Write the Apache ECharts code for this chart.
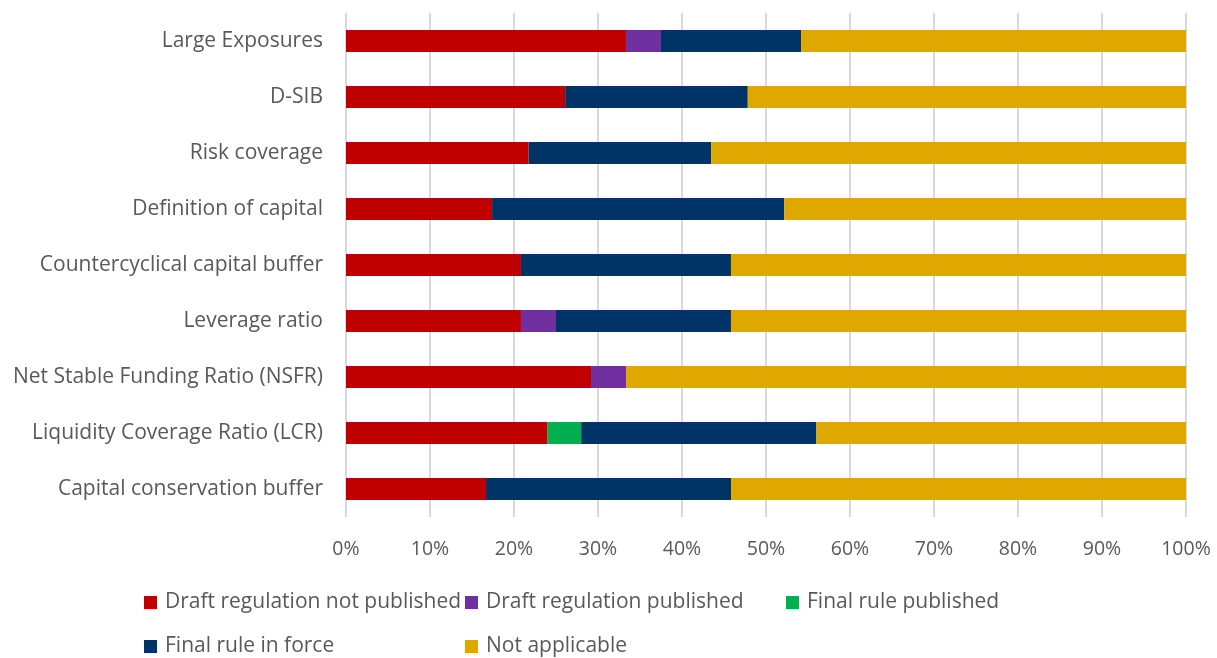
<!DOCTYPE html>
<html>
<head>
<meta charset="utf-8">
<script src="https://cdn.jsdelivr.net/npm/echarts@6/dist/echarts.min.js"></script>
<style>html,body{margin:0;padding:0;background:#fff}#c{width:1217px;height:658px}</style>
</head>
<body>
<div id="c"></div>
<script>
// Categories listed bottom to top (ECharts category y-axis starts at bottom)
const categories = [
  "Capital conservation buffer",
  "Liquidity Coverage Ratio (LCR)",
  "Net Stable Funding Ratio (NSFR)",
  "Leverage ratio",
  "Countercyclical capital buffer",
  "Definition of capital",
  "Risk coverage",
  "D-SIB",
  "Large Exposures"
];
const seriesNames = ["Draft regulation not published","Draft regulation published","Final rule published","Final rule in force","Not applicable"];
const draftNotPublished = [16.67, 24.00, 29.17, 20.83, 20.83, 17.39, 21.74, 26.09, 33.33];
const draftPublished    = [0,     0,     4.17,  4.17,  0,     0,     0,     0,     4.17];
const finalPublished    = [0,     4.00,  0,     0,     0,     0,     0,     0,     0];
const finalInForce      = [29.17, 28.00, 0,     20.83, 25.00, 34.78, 21.74, 21.74, 16.67];
const notApplicable     = [54.17, 44.00, 66.67, 54.17, 54.17, 47.83, 56.52, 52.17, 45.83];
const xTicks = [0,10,20,30,40,50,60,70,80,90,100];

const colors = ["#C00000","#7030A0","#00B050","#003366","#DFA800"];
const values = [draftNotPublished, draftPublished, finalPublished, finalInForce, notApplicable];
const font = "'Open Sans', sans-serif";

const chart = echarts.init(document.getElementById('c'));
const legendPos = [[144,592],[465,592],[786,592],[144,636],[465,636]];
chart.setOption({
  animation:false,
  textStyle:{fontFamily:font},
  grid:{left:346,right:31,top:13,bottom:141,containLabel:false},
  xAxis:{type:'value',min:0,max:100,interval:10,
    axisLabel:{formatter:v=>v+'%',color:'#595959',fontSize:19.5,fontFamily:font,margin:22},
    splitLine:{show:true,lineStyle:{color:'#d9d9d9',width:2}},
    axisLine:{show:false},axisTick:{show:false}},
  yAxis:{type:'category',data:categories,
    axisLabel:{color:'#595959',fontSize:21,fontFamily:font,margin:23},
    axisLine:{show:false},axisTick:{show:false}},
  legend: seriesNames.map((n,i)=>({
    data:[n],left:legendPos[i][0],top:legendPos[i][1],
    itemWidth:13,itemHeight:13,itemGap:0,icon:'rect',padding:0,
    textStyle:{color:'#595959',fontSize:21,fontFamily:font,padding:[0,0,0,3]}
  })),
  series: seriesNames.map((n,i)=>({
    name:n,type:'bar',stack:'total',barWidth:22,
    itemStyle:{color:colors[i]},
    data:values[i]
  }))
});
</script>
</body>
</html>
